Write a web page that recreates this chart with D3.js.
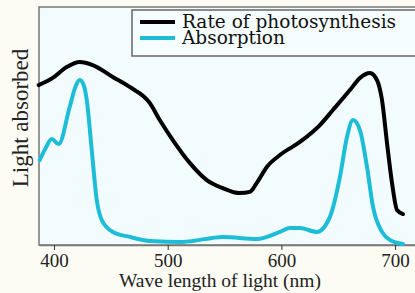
<!DOCTYPE html>
<html>
<head>
<meta charset="utf-8">
<script src="https://cdn.jsdelivr.net/npm/d3@7"></script>
<style>
  body { margin: 0; background: #fcfcf4; }
  svg { display: block; }
</style>
</head>
<body>
<div id="chart"></div>
<script>
// wavelength (nm) and relative values
var rateWave = [386.5, 398.9, 411.2, 422.6, 434.1, 451.7, 466.6, 484.2, 493.0, 504.5, 519.4, 534.4, 548.5, 563.4, 572.3, 578.4, 587.2, 598.7, 616.3, 633.9, 645.3, 660.3, 669.1, 677.9, 684.1, 688.5, 692.9, 697.3, 701.7, 707.0];
var rateVals = [67.2, 70.2, 74.8, 76.9, 75.6, 70.6, 66.4, 59.7, 52.5, 44.1, 34.5, 27.3, 23.9, 21.8, 22.3, 26.1, 32.8, 37.8, 43.3, 50.4, 56.7, 65.1, 70.2, 72.3, 69.3, 60.9, 42.9, 26.1, 14.7, 13.0];

var absWave = [387.4, 392.7, 398.0, 404.1, 413.8, 419.1, 422.6, 426.1, 428.8, 433.2, 437.6, 442.0, 451.7, 466.6, 484.2, 513.3, 548.5, 578.4, 598.7, 607.5, 616.3, 631.3, 642.7, 651.5, 657.7, 663.0, 669.1, 675.3, 680.6, 688.5, 695.5, 707.0];
var absVals = [35.7, 40.8, 44.5, 42.4, 58.0, 66.8, 69.3, 67.2, 60.9, 39.9, 18.9, 10.5, 5.5, 3.4, 1.7, 1.3, 3.4, 2.5, 5.5, 7.1, 7.1, 5.5, 11.8, 28.6, 45.4, 52.5, 48.3, 32.8, 16.0, 5.5, 2.1, 0.4];

var xTicks = [400, 500, 600, 700];
var legendLabels = ["Rate of photosynthesis", "Absorption"];
var colors = ["#000000", "#1dbdd8"];

var W = 415, H = 293;
var pLeft = 39, pTop = 7, pRight = 425, pBottom = 245;

var svg = d3.select("#chart").append("svg")
  .attr("width", W)
  .attr("height", H);

var x = d3.scaleLinear().domain([386.8, 400 + (pRight - 54.3) / 1.136]).range([pLeft, pRight]);
var y = d3.scaleLinear().domain([0, 100]).range([pBottom, pTop]);

svg.append("rect")
  .attr("x", pLeft).attr("y", pTop)
  .attr("width", pRight - pLeft).attr("height", pBottom - pTop)
  .attr("fill", "#f2fcfe")
  .attr("stroke", "#777")
  .attr("stroke-width", 1.5);

var xAxis = svg.append("g")
  .attr("transform", "translate(0," + pBottom + ")")
  .call(d3.axisBottom(x).tickValues(xTicks).tickSize(5).tickSizeOuter(0).tickPadding(4));
xAxis.select(".domain").attr("stroke", "#777").attr("stroke-width", 1.5);
xAxis.selectAll(".tick line").attr("stroke", "#333");
xAxis.selectAll("text")
  .attr("font-family", "Liberation Serif")
  .attr("font-size", 19)
  .attr("fill", "#222");

svg.append("text")
  .attr("x", 220).attr("y", 287)
  .attr("text-anchor", "middle")
  .attr("font-family", "Liberation Serif")
  .attr("font-size", 19.5)
  .attr("fill", "#222")
  .text("Wave length of light (nm)");

svg.append("text")
  .attr("transform", "translate(28,118) rotate(-90)")
  .attr("text-anchor", "middle")
  .attr("font-family", "Liberation Serif")
  .attr("font-size", 23)
  .attr("fill", "#222")
  .text("Light absorbed");

var line = d3.line()
  .x(function(d) { return x(d[0]); })
  .y(function(d) { return y(d[1]); })
  .curve(d3.curveMonotoneX);

svg.append("path")
  .datum(d3.zip(absWave, absVals))
  .attr("d", line)
  .attr("fill", "none")
  .attr("stroke", colors[1])
  .attr("stroke-width", 4)
  .attr("stroke-linecap", "round");

svg.append("path")
  .datum(d3.zip(rateWave, rateVals))
  .attr("d", line)
  .attr("fill", "none")
  .attr("stroke", colors[0])
  .attr("stroke-width", 4)
  .attr("stroke-linecap", "round");

// legend
var lg = svg.append("g");
lg.append("rect")
  .attr("x", 132).attr("y", 10)
  .attr("width", 300).attr("height", 46)
  .attr("fill", "#f6fdfe")
  .attr("stroke", "#666")
  .attr("stroke-width", 1.5);

legendLabels.forEach(function(lab, i) {
  var yy = 22 + i * 16;
  lg.append("line")
    .attr("x1", 140).attr("x2", 175)
    .attr("y1", yy).attr("y2", yy)
    .attr("stroke", colors[i])
    .attr("stroke-width", 4);
  lg.append("text")
    .attr("x", 182).attr("y", yy + 6)
    .attr("font-family", "DejaVu Serif")
    .attr("font-size", 18.5)
    .attr("fill", "#111")
    .text(lab);
});
</script>
</body>
</html>
